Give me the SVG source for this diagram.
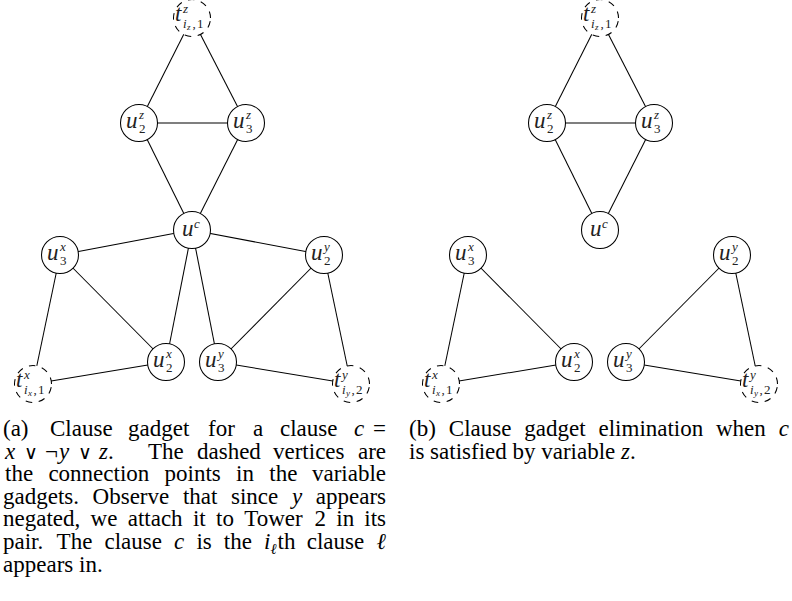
<svg xmlns="http://www.w3.org/2000/svg" width="792" height="601" viewBox="0 0 792 601">
<style>
.edge{stroke:#000;stroke-width:1.05;fill:none}
.node{fill:#fff;stroke:#000;stroke-width:1.05}
.dnode{fill:#fff;stroke:#000;stroke-width:1.05;stroke-dasharray:6.6 6.6}
.lbl{font-family:"Liberation Serif","DejaVu Serif",serif;fill:#222;font-size:23px}
.it{font-style:italic}
.sc{font-size:13px}
.ssc{font-size:9px}
.cap{font-family:"Liberation Serif","DejaVu Serif","DejaVu Sans",serif;font-size:23px;fill:#000}
.op{font-family:"DejaVu Serif",serif;font-size:19px}
</style>
<rect width="792" height="601" fill="#fff"/>
<g id="connectors">
<line class="edge" x1="192" y1="18" x2="139" y2="123"/>
<line class="edge" x1="192" y1="18" x2="246" y2="123"/>
<line class="edge" x1="139" y1="123" x2="246" y2="123"/>
<line class="edge" x1="139" y1="123" x2="192" y2="230"/>
<line class="edge" x1="246" y1="123" x2="192" y2="230"/>
<line class="edge" x1="192" y1="230" x2="60" y2="255"/>
<line class="edge" x1="192" y1="230" x2="324" y2="255"/>
<line class="edge" x1="192" y1="230" x2="166" y2="362"/>
<line class="edge" x1="192" y1="230" x2="218" y2="362"/>
<line class="edge" x1="60" y1="255" x2="166" y2="362"/>
<line class="edge" x1="60" y1="255" x2="33" y2="384"/>
<line class="edge" x1="324" y1="255" x2="218" y2="362"/>
<line class="edge" x1="324" y1="255" x2="351" y2="384"/>
<line class="edge" x1="166" y1="362" x2="33" y2="384"/>
<line class="edge" x1="218" y1="362" x2="351" y2="384"/>
<line class="edge" x1="600" y1="18" x2="547" y2="123"/>
<line class="edge" x1="600" y1="18" x2="654" y2="123"/>
<line class="edge" x1="547" y1="123" x2="654" y2="123"/>
<line class="edge" x1="547" y1="123" x2="600" y2="230"/>
<line class="edge" x1="654" y1="123" x2="600" y2="230"/>
<line class="edge" x1="468" y1="255" x2="574" y2="362"/>
<line class="edge" x1="468" y1="255" x2="441" y2="384"/>
<line class="edge" x1="574" y1="362" x2="441" y2="384"/>
<line class="edge" x1="732" y1="255" x2="626" y2="362"/>
<line class="edge" x1="732" y1="255" x2="759" y2="384"/>
<line class="edge" x1="626" y1="362" x2="759" y2="384"/>
</g>

<g id="a-tz">
<path class="dnode" d="M210.5 18A18.5 18.5 0 1 0 173.5 18A18.5 18.5 0 1 0 210.5 18Z"/>
<text class="lbl"><tspan class="it" x="175" y="20.5">t</tspan><tspan class="it sc" x="183" y="13">z</tspan><tspan class="it sc" x="183" y="27.7">i</tspan><tspan class="it ssc" x="187" y="30">z</tspan><tspan class="sc" x="192.5" y="27.7">,</tspan><tspan class="sc" x="197" y="27.7">1</tspan></text>
</g>
<g id="a-u2z">
<circle class="node" cx="139" cy="123" r="18.5"/>
<text class="lbl"><tspan class="it" x="126" y="128">u</tspan><tspan class="it sc" x="139" y="118.5">z</tspan><tspan class="sc" x="139" y="133">2</tspan></text>
</g>
<g id="a-u3z">
<circle class="node" cx="246" cy="123" r="18.5"/>
<text class="lbl"><tspan class="it" x="233" y="128">u</tspan><tspan class="it sc" x="246" y="118.5">z</tspan><tspan class="sc" x="246" y="133">3</tspan></text>
</g>
<g id="a-uc">
<circle class="node" cx="192" cy="230" r="18.5"/>
<text class="lbl"><tspan class="it" x="182" y="236">u</tspan><tspan class="it sc" x="194" y="228">c</tspan></text>
</g>
<g id="a-u3x">
<circle class="node" cx="60" cy="255" r="18.5"/>
<text class="lbl"><tspan class="it" x="47" y="260">u</tspan><tspan class="it sc" x="60" y="250.5">x</tspan><tspan class="sc" x="60" y="265">3</tspan></text>
</g>
<g id="a-u2y">
<circle class="node" cx="324" cy="255" r="18.5"/>
<text class="lbl"><tspan class="it" x="311" y="260">u</tspan><tspan class="it sc" x="324" y="250.5">y</tspan><tspan class="sc" x="324" y="265">2</tspan></text>
</g>
<g id="a-u2x">
<circle class="node" cx="166" cy="362" r="18.5"/>
<text class="lbl"><tspan class="it" x="153" y="367">u</tspan><tspan class="it sc" x="166" y="357.5">x</tspan><tspan class="sc" x="166" y="372">2</tspan></text>
</g>
<g id="a-u3y">
<circle class="node" cx="218" cy="362" r="18.5"/>
<text class="lbl"><tspan class="it" x="205" y="367">u</tspan><tspan class="it sc" x="218" y="357.5">y</tspan><tspan class="sc" x="218" y="372">3</tspan></text>
</g>
<g id="a-tx">
<path class="dnode" d="M51.5 384A18.5 18.5 0 1 0 14.5 384A18.5 18.5 0 1 0 51.5 384Z"/>
<text class="lbl"><tspan class="it" x="16" y="386.5">t</tspan><tspan class="it sc" x="24" y="379">x</tspan><tspan class="it sc" x="24" y="393.7">i</tspan><tspan class="it ssc" x="28" y="396">x</tspan><tspan class="sc" x="33.5" y="393.7">,</tspan><tspan class="sc" x="38" y="393.7">1</tspan></text>
</g>
<g id="a-ty">
<path class="dnode" d="M369.5 384A18.5 18.5 0 1 0 332.5 384A18.5 18.5 0 1 0 369.5 384Z"/>
<text class="lbl"><tspan class="it" x="334" y="386.5">t</tspan><tspan class="it sc" x="342" y="379">y</tspan><tspan class="it sc" x="342" y="393.7">i</tspan><tspan class="it ssc" x="346" y="396">y</tspan><tspan class="sc" x="351.5" y="393.7">,</tspan><tspan class="sc" x="356" y="393.7">2</tspan></text>
</g>

<g id="b-tz">
<path class="dnode" d="M618.5 18A18.5 18.5 0 1 0 581.5 18A18.5 18.5 0 1 0 618.5 18Z"/>
<text class="lbl"><tspan class="it" x="583" y="20.5">t</tspan><tspan class="it sc" x="591" y="13">z</tspan><tspan class="it sc" x="591" y="27.7">i</tspan><tspan class="it ssc" x="595" y="30">z</tspan><tspan class="sc" x="600.5" y="27.7">,</tspan><tspan class="sc" x="605" y="27.7">1</tspan></text>
</g>
<g id="b-u2z">
<circle class="node" cx="547" cy="123" r="18.5"/>
<text class="lbl"><tspan class="it" x="534" y="128">u</tspan><tspan class="it sc" x="547" y="118.5">z</tspan><tspan class="sc" x="547" y="133">2</tspan></text>
</g>
<g id="b-u3z">
<circle class="node" cx="654" cy="123" r="18.5"/>
<text class="lbl"><tspan class="it" x="641" y="128">u</tspan><tspan class="it sc" x="654" y="118.5">z</tspan><tspan class="sc" x="654" y="133">3</tspan></text>
</g>
<g id="b-uc">
<circle class="node" cx="600" cy="230" r="18.5"/>
<text class="lbl"><tspan class="it" x="590" y="236">u</tspan><tspan class="it sc" x="602" y="228">c</tspan></text>
</g>
<g id="b-u3x">
<circle class="node" cx="468" cy="255" r="18.5"/>
<text class="lbl"><tspan class="it" x="455" y="260">u</tspan><tspan class="it sc" x="468" y="250.5">x</tspan><tspan class="sc" x="468" y="265">3</tspan></text>
</g>
<g id="b-u2y">
<circle class="node" cx="732" cy="255" r="18.5"/>
<text class="lbl"><tspan class="it" x="719" y="260">u</tspan><tspan class="it sc" x="732" y="250.5">y</tspan><tspan class="sc" x="732" y="265">2</tspan></text>
</g>
<g id="b-u2x">
<circle class="node" cx="574" cy="362" r="18.5"/>
<text class="lbl"><tspan class="it" x="561" y="367">u</tspan><tspan class="it sc" x="574" y="357.5">x</tspan><tspan class="sc" x="574" y="372">2</tspan></text>
</g>
<g id="b-u3y">
<circle class="node" cx="626" cy="362" r="18.5"/>
<text class="lbl"><tspan class="it" x="613" y="367">u</tspan><tspan class="it sc" x="626" y="357.5">y</tspan><tspan class="sc" x="626" y="372">3</tspan></text>
</g>
<g id="b-tx">
<path class="dnode" d="M459.5 384A18.5 18.5 0 1 0 422.5 384A18.5 18.5 0 1 0 459.5 384Z"/>
<text class="lbl"><tspan class="it" x="424" y="386.5">t</tspan><tspan class="it sc" x="432" y="379">x</tspan><tspan class="it sc" x="432" y="393.7">i</tspan><tspan class="it ssc" x="436" y="396">x</tspan><tspan class="sc" x="441.5" y="393.7">,</tspan><tspan class="sc" x="446" y="393.7">1</tspan></text>
</g>
<g id="b-ty">
<path class="dnode" d="M777.5 384A18.5 18.5 0 1 0 740.5 384A18.5 18.5 0 1 0 777.5 384Z"/>
<text class="lbl"><tspan class="it" x="742" y="386.5">t</tspan><tspan class="it sc" x="750" y="379">y</tspan><tspan class="it sc" x="750" y="393.7">i</tspan><tspan class="it ssc" x="754" y="396">y</tspan><tspan class="sc" x="759.5" y="393.7">,</tspan><tspan class="sc" x="764" y="393.7">2</tspan></text>
</g>

<g id="caption-a" class="cap">
<text y="436"><tspan x="3">(a)</tspan><tspan x="50">Clause</tspan><tspan x="128">gadget</tspan><tspan x="208">for</tspan><tspan x="253">a</tspan><tspan x="280">clause</tspan><tspan class="it" x="354">c</tspan><tspan x="386" text-anchor="end">=</tspan></text>
<text y="458.6"><tspan class="it" x="5">x</tspan><tspan class="op" x="24">∨</tspan><tspan x="45">¬</tspan><tspan class="it" x="59">y</tspan><tspan class="op" x="78">∨</tspan><tspan class="it" x="99">z</tspan><tspan x="108">.</tspan><tspan x="148">The</tspan><tspan x="197">dashed</tspan><tspan x="273">vertices</tspan><tspan x="386" text-anchor="end">are</tspan></text>
<text y="481.2"><tspan x="5">the</tspan><tspan x="48.4">connection</tspan><tspan x="164.6">points</tspan><tspan x="236.1">in</tspan><tspan x="269.3">the</tspan><tspan x="386" text-anchor="end">variable</tspan></text>
<text y="503.8"><tspan x="3">gadgets.</tspan><tspan x="92.6">Observe</tspan><tspan x="182.9">that</tspan><tspan x="231">since</tspan><tspan class="it" x="291.9">y</tspan><tspan x="386" text-anchor="end">appears</tspan></text>
<text y="526.4"><tspan x="3">negated,</tspan><tspan x="90.6">we</tspan><tspan x="127.7">attach</tspan><tspan x="192.9">it</tspan><tspan x="216">to</tspan><tspan x="244.2">Tower</tspan><tspan x="314.5">2</tspan><tspan x="336.3">in</tspan><tspan x="386" text-anchor="end">its</tspan></text>
<text y="549"><tspan x="3">pair.</tspan><tspan x="56.6">The</tspan><tspan x="104.5">clause</tspan><tspan class="it" x="174.1">c</tspan><tspan x="196.4">is</tspan><tspan x="223.8">the</tspan><tspan class="it" x="264">i</tspan><tspan class="it" x="270.5" y="553.5" font-size="15">ℓ</tspan><tspan x="277.5" y="549">th</tspan><tspan x="306.7">clause</tspan><tspan class="it" x="386" text-anchor="end">ℓ</tspan></text>
<text x="3" y="571.6">appears in.</text>
</g>
<g id="caption-b" class="cap">
<text y="436"><tspan x="409">(b)</tspan><tspan x="448.8">Clause</tspan><tspan x="524.3">gadget</tspan><tspan x="598.5">elimination</tspan><tspan x="716">when</tspan><tspan class="it" x="789" text-anchor="end">c</tspan></text>
<text x="409" y="458.6">is satisfied by variable <tspan class="it">z</tspan>.</text>
</g>
</svg>
